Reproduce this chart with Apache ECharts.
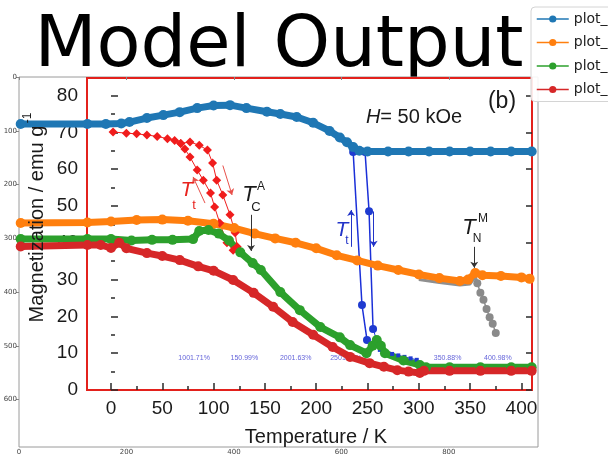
<!DOCTYPE html>
<html>
<head>
<meta charset="utf-8">
<script src="https://cdn.jsdelivr.net/npm/echarts@6/dist/echarts.min.js"></script>
<style>
  html, body { margin: 0; padding: 0; background: #fff; }
  #c { width: 608px; height: 456px; }
</style>
</head>
<body>
<div id="c"></div>
<script>
// Magnetization vs. temperature at H = 50 kOe, with traced curves on top.

// Axis ticks
const pixelXTicks = [0, 200, 400, 600, 800];
const pixelYTicks = [0, 100, 200, 300, 400, 500, 600];
const tempTicks = [0, 50, 100, 150, 200, 250, 300, 350, 400];
const tempMinorTicks = [25, 75, 125, 175, 225, 275, 325, 375];
const magTicks = [0, 10, 20, 30, 40, 50, 60, 70, 80];
const magMinorTicks = [5, 15, 25, 35, 45, 55, 65, 75];

// Traced curves (temperature in K, magnetization in emu/g)
const blueT = [-88, -23, -5, 10, 18, 35, 51, 67, 84, 100, 116, 132, 152, 165, 181, 197, 213, 223, 230, 236, 242, 250, 270, 290, 310, 330, 350, 370, 390, 410];
const blueM = [72.3, 72.3, 72.3, 72.4, 72.8, 73.9, 74.7, 75.5, 76.6, 77.3, 77.4, 76.6, 75.6, 75.0, 74.2, 72.6, 70.4, 68.6, 67.3, 66.0, 65.0, 64.8, 64.8, 64.8, 64.8, 64.8, 64.8, 64.8, 64.8, 64.8];

const orangeT = [-88, -23, 0, 25, 50, 75, 100, 120, 140, 160, 180, 200, 220, 240, 260, 280, 300, 320, 340, 348, 355, 362, 380, 400, 408];
const orangeM = [45.4, 45.5, 45.8, 46.2, 46.3, 46.0, 45.2, 44.0, 42.5, 41.2, 40.0, 38.5, 36.6, 35.2, 33.8, 32.6, 31.4, 30.4, 29.6, 30.0, 31.8, 31.2, 31.0, 30.6, 30.2];

const greenT = [-88, -23, 0, 20, 40, 60, 80, 86, 95, 105, 115, 126, 138, 146, 165, 184, 204, 223, 233, 249, 255, 259, 263, 267, 285, 301, 307, 330, 360, 390, 410];
const greenM = [41.0, 41.0, 41.0, 40.6, 40.8, 40.8, 41.0, 43.2, 43.5, 42.5, 40.6, 37.4, 34.5, 32.6, 26.6, 21.7, 17.1, 14.3, 12.2, 10.0, 12.0, 13.6, 12.0, 10.0, 8.0, 6.8, 6.2, 6.2, 6.2, 6.2, 6.2];

const redT = [-88, -23, -10, 0, 8, 15, 35, 50, 67, 85, 100, 119, 139, 158, 177, 197, 216, 233, 252, 266, 279, 290, 301, 305, 330, 360, 390, 410];
const redM = [39.0, 39.4, 39.4, 38.6, 40.0, 38.5, 37.2, 36.4, 35.3, 33.6, 32.4, 29.9, 26.4, 22.6, 18.5, 15.0, 11.7, 9.0, 7.3, 6.3, 5.4, 5.0, 4.6, 5.2, 5.2, 5.2, 5.2, 5.2];

// Measured branches underneath
const diamondCoolT = [2, 15, 25, 35, 45, 55, 62, 68, 72, 77, 84, 90, 97, 101, 106, 113, 119];
const diamondCoolM = [70.1, 69.8, 69.6, 69.3, 68.9, 68.3, 67.8, 67.0, 65.5, 63.3, 59.8, 57.0, 53.5, 49.7, 45.4, 40.0, 38.0];
const diamondHeatT = [68, 77, 86, 94, 99, 103, 109, 116, 121, 123];
const diamondHeatM = [67.0, 67.4, 66.5, 65.2, 61.7, 57.0, 53.0, 47.6, 42.7, 38.9];

const sphereCoolT = [236, 244.6, 249.5];
const sphereCoolM = [64.7, 23.1, 13.6];
const sphereHeatT = [247.6, 251.5, 255.4];
const sphereHeatM = [64.7, 48.6, 16.6];
const blueTailT = [255.4, 262, 268, 274, 280, 286, 292, 298];
const blueTailM = [16.6, 10.9, 10.3, 9.8, 9.4, 9.0, 8.6, 8.2];

const greyLineT = [300, 320, 340, 350, 355, 357];
const greyLineM = [30.0, 29.2, 28.5, 28.8, 30.8, 29.0];
const greyT = [357, 360, 363, 366, 369, 372, 375];
const greyM = [29.0, 26.4, 24.5, 22.0, 19.8, 18.0, 15.5];

// Small percentage labels
const pctT = [81, 130, 180, 229, 328, 377];
const pctM = [8.7, 8.7, 8.7, 8.7, 8.7, 8.7];
const pctText = ['1001.71%', '150.99%', '2001.63%', '2501.58%', '350.88%', '400.98%'];

// Transition arrows: [from, to]
const redArrowUp = [[91.6, 50.8], [80, 57.9]];
const redArrowDown = [[109, 61], [118, 53]];
const tcArrow = [[136.5, 47.6], [136.5, 37.8]];
const blueArrowUp = [[234, 38.9], [234, 48.9]];
const blueArrowDown = [[256, 48.5], [256, 38.9]];
const tnArrow = [[354, 38.9], [354, 33.2]];

const zip = (xs, ys) => xs.map((x, i) => [x, ys[i]]);

const chart = echarts.init(document.getElementById('c'), null, { renderer: 'canvas' });

const SANS = '"Liberation Sans", Arial, sans-serif';
const DJ = '"DejaVu Sans", sans-serif';
// Curves live on a hidden grid with the same scale as the framed panel,
// widened to the left so the traced lines can run out to the figure edge.
const data = { xAxisIndex: 3, yAxisIndex: 4 };
const T_LEFT = -88, T_RIGHT = 410.3, M_TOP = 84.78;

function overlay(name, color, xs, ys) {
  return Object.assign({
    name, type: 'line', data: zip(xs, ys), clip: false,
    symbol: 'circle', symbolSize: 10, showSymbol: true,
    lineStyle: { color, width: 7 }, itemStyle: { color },
    emphasis: { disabled: true }
  }, data);
}

function arrow(pair, color) {
  return [
    { coord: pair[0], lineStyle: { color, width: 1, type: 'solid' } },
    { coord: pair[1] }
  ];
}

const hiddenAxis = { axisLine: { show: false }, axisTick: { show: false }, axisLabel: { show: false }, splitLine: { show: false } };

const option = {
  animation: false,
  backgroundColor: '#ffffff',
  grid: [
    { left: 19, top: 77, width: 519, height: 370, show: true, borderColor: '#9a9a9a', borderWidth: 1, backgroundColor: '#fff' },
    { left: 87, top: 78, width: 445, height: 312, show: true, borderColor: '#e3211c', borderWidth: 2 },
    { left: 20.7, top: 78, width: 511.3, height: 312, show: false }
  ],
  xAxis: [
    {
      gridIndex: 0, type: 'value', min: 0, max: 966, position: 'bottom',
      axisLine: { show: false },
      axisTick: { show: true, length: 3, lineStyle: { color: '#888' }, customValues: pixelXTicks },
      axisLabel: { customValues: pixelXTicks, fontSize: 7, color: '#444', margin: 2, fontFamily: DJ },
      splitLine: { show: false }
    },
    {
      gridIndex: 1, type: 'value', min: -23.39, max: T_RIGHT, position: 'bottom',
      axisLine: { show: false },
      axisTick: { show: true, inside: true, length: 7, lineStyle: { color: '#2a2a2a', width: 1.5 }, customValues: tempTicks },
      axisLabel: { customValues: tempTicks, fontSize: 19, color: '#1a1a1a', margin: 9, fontFamily: SANS },
      splitLine: { show: false }
    },
    {
      gridIndex: 1, type: 'value', min: -23.39, max: T_RIGHT, position: 'bottom',
      axisLine: { show: false },
      axisTick: { show: true, inside: true, length: 4, lineStyle: { color: '#2a2a2a', width: 1.5 }, customValues: tempMinorTicks },
      axisLabel: { show: false },
      splitLine: { show: false }
    },
    Object.assign({ gridIndex: 2, type: 'value', min: T_LEFT, max: T_RIGHT, position: 'bottom' }, hiddenAxis)
  ],
  yAxis: [
    {
      gridIndex: 0, type: 'value', min: 0, max: 688, inverse: true, position: 'left',
      axisLine: { show: false },
      axisTick: { show: true, length: 3, lineStyle: { color: '#888' }, customValues: pixelYTicks },
      axisLabel: { customValues: pixelYTicks, fontSize: 7, color: '#444', margin: 2, fontFamily: DJ },
      splitLine: { show: false }
    },
    {
      gridIndex: 1, type: 'value', min: 0, max: M_TOP, position: 'left',
      axisLine: { show: false },
      axisTick: { show: true, inside: true, length: 7, lineStyle: { color: '#2a2a2a', width: 1.5 }, customValues: magTicks },
      axisLabel: { customValues: magTicks, fontSize: 19, color: '#1a1a1a', margin: 9, fontFamily: SANS },
      splitLine: { show: false }
    },
    {
      gridIndex: 1, type: 'value', min: 0, max: M_TOP, position: 'left',
      axisLine: { show: false },
      axisTick: { show: true, inside: true, length: 4, lineStyle: { color: '#2a2a2a', width: 1.5 }, customValues: magMinorTicks },
      axisLabel: { show: false },
      splitLine: { show: false }
    },
    {
      gridIndex: 1, type: 'value', min: 0, max: M_TOP, position: 'right',
      axisLine: { show: false },
      axisTick: { show: true, inside: true, length: 6, lineStyle: { color: '#2a2a2a', width: 1.5 }, customValues: magTicks },
      axisLabel: { show: false },
      splitLine: { show: false }
    },
    Object.assign({ gridIndex: 2, type: 'value', min: 0, max: M_TOP, position: 'left' }, hiddenAxis)
  ],
  legend: {
    data: ['plot_1', 'plot_2', 'plot_3', 'plot_4'],
    orient: 'vertical', left: 531, top: 7,
    backgroundColor: 'rgba(255,255,255,0.9)', borderColor: '#d4d4d4', borderWidth: 1, borderRadius: 4,
    padding: [5, 8, 5, 5], itemWidth: 32, itemHeight: 9, itemGap: 9.5,
    lineStyle: { width: 1.5 },
    selectedMode: false,
    textStyle: { fontSize: 14, fontFamily: DJ, color: '#222' }
  },
  series: [
    Object.assign({ type: 'line', data: zip(greyLineT, greyLineM), symbol: 'none', lineStyle: { color: '#8f8f8f', width: 3 }, silent: true }, data),
    Object.assign({ type: 'line', data: zip(greyT, greyM), symbol: 'circle', symbolSize: 8, lineStyle: { color: '#8f8f8f', width: 1.5 }, itemStyle: { color: '#8a8a8a' }, silent: true }, data),
    Object.assign({ type: 'line', data: zip(diamondCoolT, diamondCoolM), symbol: 'diamond', symbolSize: 9, lineStyle: { color: '#f01c1c', width: 1 }, itemStyle: { color: '#f01c1c' }, silent: true }, data),
    Object.assign({ type: 'line', data: zip(diamondHeatT, diamondHeatM), symbol: 'diamond', symbolSize: 9, lineStyle: { color: '#f01c1c', width: 1 }, itemStyle: { color: '#f01c1c' }, silent: true }, data),
    Object.assign({ type: 'line', data: zip(sphereCoolT, sphereCoolM), symbol: 'circle', symbolSize: 8, lineStyle: { color: '#1b30d8', width: 1.5 }, itemStyle: { color: '#1f3bd0' }, silent: true }, data),
    Object.assign({ type: 'line', data: zip(sphereHeatT, sphereHeatM), symbol: 'circle', symbolSize: 8, lineStyle: { color: '#1b30d8', width: 1.5 }, itemStyle: { color: '#1f3bd0' }, silent: true }, data),
    Object.assign({ type: 'line', data: zip(blueTailT, blueTailM), symbol: 'rect', symbolSize: 4, lineStyle: { color: '#1b30d8', width: 1 }, itemStyle: { color: '#1f3bd0' }, silent: true }, data),
    Object.assign({
      type: 'scatter', data: pctT.map((t, i) => ({ value: [t, pctM[i]], name: pctText[i] })),
      symbolSize: 0, silent: true,
      label: { show: true, position: 'inside', formatter: p => p.name, fontSize: 7, color: '#3a3ad0', fontFamily: SANS }
    }, data),
    Object.assign({
      type: 'scatter', data: [], silent: true,
      markLine: {
        silent: true, symbol: ['none', 'arrow'], symbolSize: 6, label: { show: false },
        data: [
          arrow(redArrowUp, '#e8504a'),
          arrow(redArrowDown, '#e8504a'),
          arrow(tcArrow, '#333333'),
          arrow(blueArrowUp, '#2234c8'),
          arrow(blueArrowDown, '#2234c8'),
          arrow(tnArrow, '#333333')
        ]
      }
    }, data),
    overlay('plot_1', '#1f77b4', blueT, blueM),
    overlay('plot_2', '#ff7f0e', orangeT, orangeM),
    overlay('plot_3', '#2ca02c', greenT, greenM),
    overlay('plot_4', '#d62728', redT, redM)
  ],
  graphic: [
    { type: 'text', x: 37, y: 224, rotation: Math.PI / 2, z: 50,
      style: { text: 'Magnetization / emu g', font: '20px ' + SANS, fill: '#1a1a1a', textAlign: 'center', textVerticalAlign: 'middle' } },
    { type: 'text', x: 28, y: 118, rotation: Math.PI / 2, z: 50,
      style: { text: '-1', font: '12px ' + SANS, fill: '#1a1a1a', textAlign: 'center', textVerticalAlign: 'middle' } },
    { type: 'text', x: 316, y: 437, z: 50,
      style: { text: 'Temperature / K', font: '20px ' + SANS, fill: '#1a1a1a', textAlign: 'center', textVerticalAlign: 'middle' } },
    { type: 'text', x: 502, y: 102, z: 50,
      style: { text: '(b)', font: '23px ' + SANS, fill: '#1a1a1a', textAlign: 'center', textVerticalAlign: 'middle' } },
    { type: 'text', x: 414, y: 117, z: 50,
      style: { text: '{i|H}{n|= 50 kOe}', textAlign: 'center', textVerticalAlign: 'middle',
        rich: { i: { font: 'italic 20px ' + SANS, fill: '#1a1a1a' }, n: { font: '20px ' + SANS, fill: '#1a1a1a' } } } },
    // T_t (red)
    { type: 'text', x: 187, y: 190, z: 50, style: { text: 'T', font: 'italic 21px ' + SANS, fill: '#e8231e', textAlign: 'center', textVerticalAlign: 'middle' } },
    { type: 'text', x: 194, y: 205, z: 50, style: { text: 't', font: '13px ' + SANS, fill: '#e8231e', textAlign: 'center', textVerticalAlign: 'middle' } },
    // T_C^A
    { type: 'text', x: 249, y: 195, z: 50, style: { text: 'T', font: 'italic 22px ' + SANS, fill: '#1a1a1a', textAlign: 'center', textVerticalAlign: 'middle' } },
    { type: 'text', x: 256, y: 207, z: 50, style: { text: 'C', font: '13px ' + SANS, fill: '#1a1a1a', textAlign: 'center', textVerticalAlign: 'middle' } },
    { type: 'text', x: 261, y: 187, z: 50, style: { text: 'A', font: '12px ' + SANS, fill: '#1a1a1a', textAlign: 'center', textVerticalAlign: 'middle' } },
    // T_t (blue)
    { type: 'text', x: 342, y: 230, z: 50, style: { text: 'T', font: 'italic 21px ' + SANS, fill: '#2234c8', textAlign: 'center', textVerticalAlign: 'middle' } },
    { type: 'text', x: 347, y: 241, z: 50, style: { text: 't', font: '12px ' + SANS, fill: '#2234c8', textAlign: 'center', textVerticalAlign: 'middle' } },
    // T_N^M
    { type: 'text', x: 469, y: 228, z: 50, style: { text: 'T', font: 'italic 22px ' + SANS, fill: '#1a1a1a', textAlign: 'center', textVerticalAlign: 'middle' } },
    { type: 'text', x: 477, y: 239, z: 50, style: { text: 'N', font: '12px ' + SANS, fill: '#1a1a1a', textAlign: 'center', textVerticalAlign: 'middle' } },
    { type: 'text', x: 483, y: 219, z: 50, style: { text: 'M', font: '12px ' + SANS, fill: '#1a1a1a', textAlign: 'center', textVerticalAlign: 'middle' } },
    // Figure title, sitting behind the panel so its descender is hidden
    { type: 'text', x: 279, y: 47, z: -10,
      style: { text: 'Model Output', font: '72px ' + DJ, fill: '#000', textAlign: 'center', textVerticalAlign: 'middle' } }
  ]
};

chart.setOption(option);
</script>
</body>
</html>
